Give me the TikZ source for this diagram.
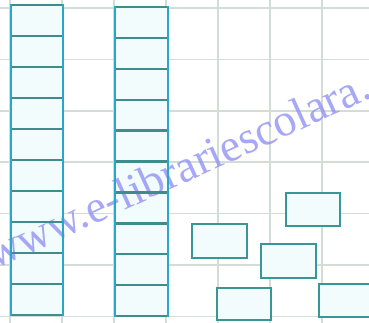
\documentclass[tikz,border=0pt]{standalone}
\usepackage{fontspec}
\newfontfamily\wmfont{Liberation Serif}
\definecolor{gridc}{RGB}{212,220,216}
\definecolor{cellfill}{RGB}{242,252,252}
\definecolor{coledge}{RGB}{40,168,200}
\definecolor{divline}{RGB}{62,140,140}
\definecolor{brickc}{RGB}{56,150,150}
\definecolor{wmc}{RGB}{145,145,245}
\tikzset{
  gridline/.style={draw=gridc, line width=1.6bp},
  brick/.style={draw=brickc, fill=cellfill, line width=2.4bp, rectangle, inner sep=0pt},
  divider/.style={draw=divline, line width=2.4bp},
  colside/.style={draw=coledge, line width=2.4bp},
  watermark/.style={text=wmc, text opacity=0.8, font=\wmfont\fontsize{46}{46}\selectfont, inner sep=0pt}
}
\begin{document}
\begin{tikzpicture}[x=1bp, y=-1bp]
\useasboundingbox (0,0) rectangle (369,323);
\clip (0,0) rectangle (369,323);
\fill[white] (0,0) rectangle (369,323);
% grid
\foreach \gx in {10,62,114,166,218,270,322}
  \draw[gridline] (\gx,0) -- (\gx,323);
\foreach \gy in {8,59.4,110.8,162.2,213.6,265,316.4}
  \draw[gridline] (0,\gy) -- (369,\gy);
% column fills
\fill[cellfill] (11,5) rectangle (63,315);
\fill[cellfill] (115,7) rectangle (168,316);
% brick fills
\foreach \n/\xa/\ya/\xb/\yb in {a/192/224/247/258, b/286/193/340/226, c/261/244/316/278, d/217/288/271/320, e/319/284/375/317}
  \fill[cellfill] (\xa,\ya) rectangle (\xb,\yb);
% watermark
\node[watermark, rotate=24.5, anchor=base west] (wm) at (-6,270) {www.e-librariescolara.};
% left column
\foreach \k in {0,...,10}
  \draw[divider] (11,{5+31*\k}) -- (63,{5+31*\k});
\draw[colside] (11,4) -- (11,316);
\draw[colside] (63,4) -- (63,316);
% right column
\foreach \k in {0,...,10}
  \draw[divider] (115,{7+30.9*\k}) -- (168,{7+30.9*\k});
\draw[colside] (115,6) -- (115,317);
\draw[colside] (168,6) -- (168,317);
% separate bricks
\node[brick, minimum width=55bp, minimum height=34bp] (ba) at (219.5,241) {};
\node[brick, minimum width=54bp, minimum height=33bp] (bb) at (313,209.5) {};
\node[brick, minimum width=55bp, minimum height=34bp] (bc) at (288.5,261) {};
\node[brick, minimum width=54bp, minimum height=32bp] (bd) at (244,304) {};
\node[brick, minimum width=56bp, minimum height=33bp] (be) at (347,300.5) {};
\end{tikzpicture}
\end{document}
